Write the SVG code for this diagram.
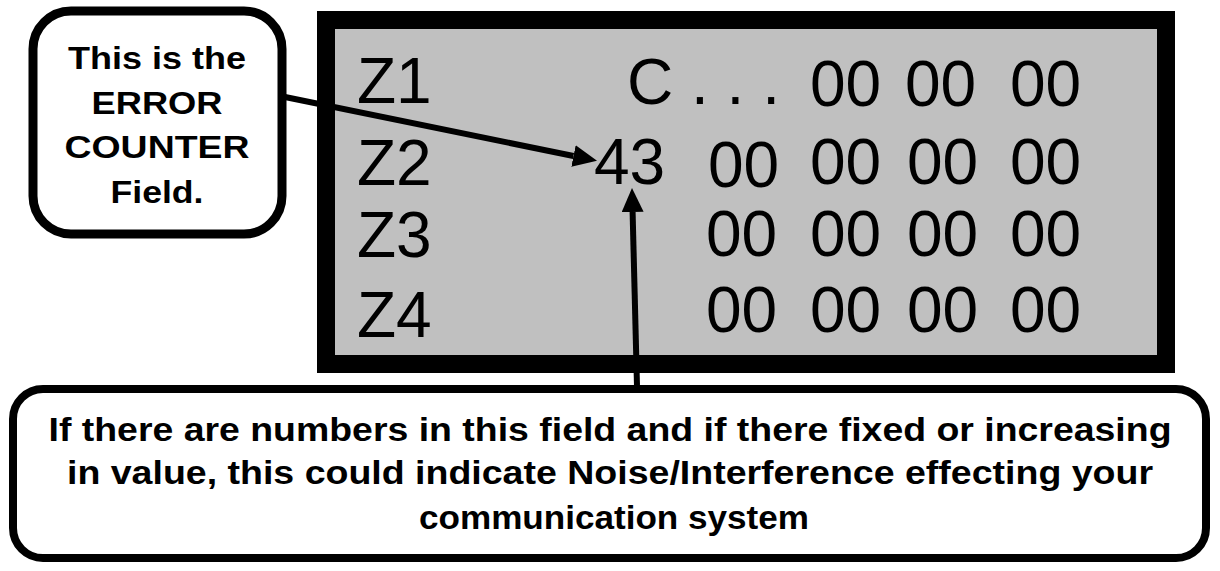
<svg xmlns="http://www.w3.org/2000/svg" width="1220" height="571" viewBox="0 0 1220 571">
  <style>
    .mono { font-family: "Liberation Sans", Arial, sans-serif; font-size: 64px; fill: #000; }
    .callout { font-family: "Liberation Sans", Arial, sans-serif; font-weight: bold; font-size: 32px; fill: #000; text-anchor: middle; }
    .note { font-family: "Liberation Sans", Arial, sans-serif; font-weight: bold; font-size: 33px; fill: #000; text-anchor: middle; }
    .box { fill: #fff; stroke: #000; }
    .conn { stroke: #000; stroke-width: 6; fill: none; }
  </style>
  <defs>
    <marker id="head" markerUnits="userSpaceOnUse" viewBox="0 0 24 22" refX="0" refY="11" markerWidth="24" markerHeight="22" orient="auto">
      <path d="M0,0 L24,11 L0,22 z" fill="#000"/>
    </marker>
  </defs>
  <rect x="0" y="0" width="1220" height="571" fill="#fff"/>

  <g id="display">
    <rect x="326" y="20" width="840" height="344" fill="#c0c0c0" stroke="#000" stroke-width="18"/>
    <text class="mono" x="357" y="103">Z1</text>
    <text class="mono" x="357" y="185">Z2</text>
    <text class="mono" x="357" y="257">Z3</text>
    <text class="mono" x="357" y="337">Z4</text>

    <text class="mono" x="627" y="104">C . . .</text>
    <text class="mono" x="810" y="106">00</text>
    <text class="mono" x="905" y="106">00</text>
    <text class="mono" x="1010" y="106">00</text>

    <text class="mono" x="594" y="184">43</text>
    <text class="mono" x="708" y="187">00</text>
    <text class="mono" x="810" y="184">00</text>
    <text class="mono" x="907" y="184">00</text>
    <text class="mono" x="1010" y="184">00</text>

    <text class="mono" x="706" y="256">00</text>
    <text class="mono" x="810" y="256">00</text>
    <text class="mono" x="907" y="256">00</text>
    <text class="mono" x="1010" y="256">00</text>

    <text class="mono" x="706" y="332">00</text>
    <text class="mono" x="810" y="332">00</text>
    <text class="mono" x="907" y="332">00</text>
    <text class="mono" x="1010" y="332">00</text>
  </g>

  <g id="callout-error-counter">
    <rect class="box" x="33" y="11" width="249" height="223" rx="38" stroke-width="9"/>
    <text class="callout" x="157" y="69" textLength="178" lengthAdjust="spacingAndGlyphs">This is the</text>
    <text class="callout" x="157" y="114" textLength="131" lengthAdjust="spacingAndGlyphs">ERROR</text>
    <text class="callout" x="157" y="158" textLength="185" lengthAdjust="spacingAndGlyphs">COUNTER</text>
    <text class="callout" x="157" y="203" textLength="93" lengthAdjust="spacingAndGlyphs">Field.</text>
  </g>

  <g id="note-noise">
    <rect class="box" x="13" y="389" width="1193" height="169" rx="30" stroke-width="8"/>
    <text class="note" x="610" y="441" textLength="1123" lengthAdjust="spacingAndGlyphs">If there are numbers in this field and if there fixed or increasing</text>
    <text class="note" x="610" y="484" textLength="1086" lengthAdjust="spacingAndGlyphs">in value, this could indicate Noise/Interference effecting your</text>
    <text class="note" x="614" y="529" textLength="390" lengthAdjust="spacingAndGlyphs">communication system</text>
  </g>

  <g id="connectors">
    <line class="conn" x1="285" y1="97" x2="573.5" y2="156" marker-end="url(#head)"/>
    <line class="conn" x1="637" y1="386" x2="632.6" y2="212" marker-end="url(#head)"/>
  </g>
</svg>
